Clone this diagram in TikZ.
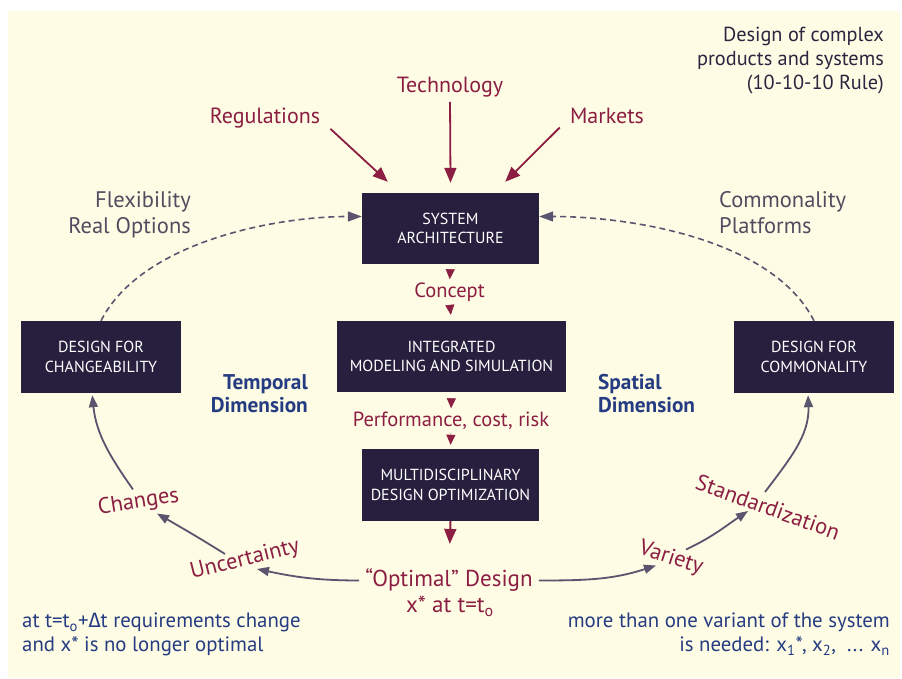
\documentclass[tikz,border=0pt]{standalone}
\usepackage{fontspec}
\setmainfont{PT Sans}
\newfontfamily\grkfont{Fira Sans}
\usetikzlibrary{arrows.meta}

\definecolor{paper}{HTML}{FEFCE4}
\definecolor{boxfill}{HTML}{271F3E}
\definecolor{wine}{HTML}{8B1E42}
\definecolor{slate}{HTML}{5A546E}
\definecolor{slatetext}{HTML}{514C60}
\definecolor{navy}{HTML}{253C82}
\definecolor{ink}{HTML}{2A2540}

\newcommand{\fsz}[2]{\fontsize{#1}{#2}\selectfont}
\newcommand{\subring}{\textsubscript{o}}

\begin{document}
\begin{tikzpicture}[x=1pt,y=1pt,
  blockbox/.style={fill=boxfill, text=white, minimum width=#1, minimum height=71pt,
    align=center, inner sep=0pt, font=\fsz{16}{19.3}},
  winelabel/.style={text=wine, inner sep=0pt, font=\fsz{22}{26}},
  slatelabel/.style={text=slatetext, inner sep=0pt, font=\fsz{22.5}{26}},
  dimlabel/.style={text=navy, inner sep=0pt, font=\bfseries\fsz{21.3}{23}},
  notelabel/.style={text=navy, inner sep=0pt, font=\fsz{20.8}{24}},
  arclabel/.style={text=wine, inner sep=0pt, font=\fsz{22.5}{26}},
  bigred/.style={draw=wine, line width=1.8pt, -{Triangle[length=15pt,width=12pt]}},
  tinyred/.style={draw=wine, line width=0.5pt, -{Triangle[length=10pt,width=9pt]}},
  arcline/.style={draw=slate, line width=1.8pt, -{Triangle[length=12pt,width=9pt]}},
  dasharc/.style={draw=slate, line width=1.6pt, dash pattern=on 6pt off 4pt,
    -{Triangle[length=14pt,width=10pt]}}
]
\useasboundingbox (0,0) rectangle (902,679);
\fill[paper] (8,1) rectangle (900,668);

% blocks
\node[blockbox=177pt] (sa)   at (450.5,450.5) {SYSTEM\\ARCHITECTURE};
\node[blockbox=229pt] (ims)  at (451.5,322.5) {INTEGRATED\\MODELING AND SIMULATION};
\node[blockbox=177pt, minimum height=72pt] (mdo) at (450.5,194) {MULTIDISCIPLINARY\\DESIGN OPTIMIZATION};
\node[blockbox=160pt, minimum height=72pt] (dfch) at (101,322) {DESIGN FOR\\CHANGEABILITY};
\node[blockbox=160pt, minimum height=72pt] (dfco) at (814,322) {DESIGN FOR\\COMMONALITY};

% drivers
\node[winelabel, anchor=base] (tech) at (450,586) {Technology};
\node[winelabel, anchor=base] (reg)  at (265,555) {Regulations};
\node[winelabel, anchor=base] (mkt)  at (607,555) {Markets};
\draw[bigred, shorten <=4pt] (tech.south) -- ([yshift=10]sa.north);
\draw[bigred] ([xshift=10]reg.south east) -- ([shift={(26,11)}]sa.north west);
\draw[bigred] ([shift={(-10,-3)}]mkt.south west) -- ([shift={(-34,11)}]sa.north east);

% title (base anchor sits on the last line)
\node[text=ink, inner sep=0pt, font=\fsz{20.3}{24}, align=right, anchor=base east] (title)
  at (884,589) {Design of complex\\products and systems\\(10-10-10 Rule)};

% side labels
\node[slatelabel, align=right, anchor=base east] (flex) at (191,445) {Flexibility\\Real Options};
\node[slatelabel, align=left, anchor=base west] (comm) at (719,445) {Commonality\\Platforms};
\node[dimlabel, align=right, anchor=base east] (temp) at (308,266) {Temporal\\Dimension};
\node[dimlabel, align=left, anchor=base west] (spat) at (598,266) {Spatial\\Dimension};

% central chain
\node[winelabel, font=\fsz{20.5}{24}, anchor=base] (concept) at (449.5,381) {Concept};
\node[winelabel, font=\fsz{20.5}{24}, anchor=base] (perf) at (451,252) {Performance, cost, risk};
\draw[tinyred, shorten <=5pt, shorten >=4pt] (sa.south) -- (concept.north);
\draw[tinyred, shorten <=3pt, shorten >=6pt] (concept.south) -- (ims.north);
\draw[tinyred, shorten <=6pt, shorten >=4pt] (ims.south) -- (perf.north);
\draw[tinyred, shorten <=3pt, shorten >=4pt] (perf.south) -- (mdo.north);

\node[winelabel, font=\fsz{23}{26}, inner xsep=6pt, anchor=base] (opt1) at (449,92) {\char"201C Optimal\char"201D\ Design};
\node[winelabel, font=\fsz{23}{26}, anchor=base] (opt2) at (450,66) {x* at t=t\subring};
\draw[bigred, line width=2pt, shorten >=25pt] (mdo.south) -- (opt1.north);

% feedback loops
\draw[dasharc] (dfch.north) to[out=63,in=180,looseness=0.8] ([yshift=12]sa.west);
\draw[dasharc] (dfco.north) to[out=117,in=0,looseness=0.8] ([yshift=12]sa.east);

\node[arclabel, rotate=9]   (chg) at (138.5,176.5) {Changes};
\node[arclabel, rotate=14]  (unc) at (245,119) {Uncertainty};
\node[arclabel, rotate=-18] (var) at (671,120.5) {Variety};
\node[arclabel, rotate=-20] (std) at (768,172) {Standardization};

\draw[arcline] (opt1.west) to[out=180,in=-12] ([shift={(12,-9)}]unc.center);
\draw[arcline] ([shift={(-20,6)}]unc.center) to[out=148,in=-30] ([shift={(18.5,-11)}]chg.center);
\draw[arcline, shorten >=2pt] ([shift={(-5.5,13)}]chg.center) to[out=125,in=-84] ([xshift=-9]dfch.south);
\draw[arcline] (opt1.east) to[out=0,in=-162] ([shift={(-15,-7)}]var.center);
\draw[arcline] ([shift={(15,9)}]var.center) to[out=25,in=-146] ([shift={(-20,-4)}]std.center);
\draw[arcline, shorten >=2pt] ([shift={(-3,15)}]std.center) to[out=53,in=-88] ([xshift=-6]dfco.south);

% notes (base anchor sits on the last line)
\node[notelabel, align=left, anchor=base west] (noteL) at (22,27)
  {at t=t\subring+{\grkfont\char"0394}t requirements change\\and x* is no longer optimal};
\node[notelabel, align=right, anchor=base east] (noteR) at (890,27)
  {more than one variant of the system\\is needed: x\textsubscript{1}*, x\textsubscript{2},\ \ ... x\textsubscript{n}};
\end{tikzpicture}
\end{document}
